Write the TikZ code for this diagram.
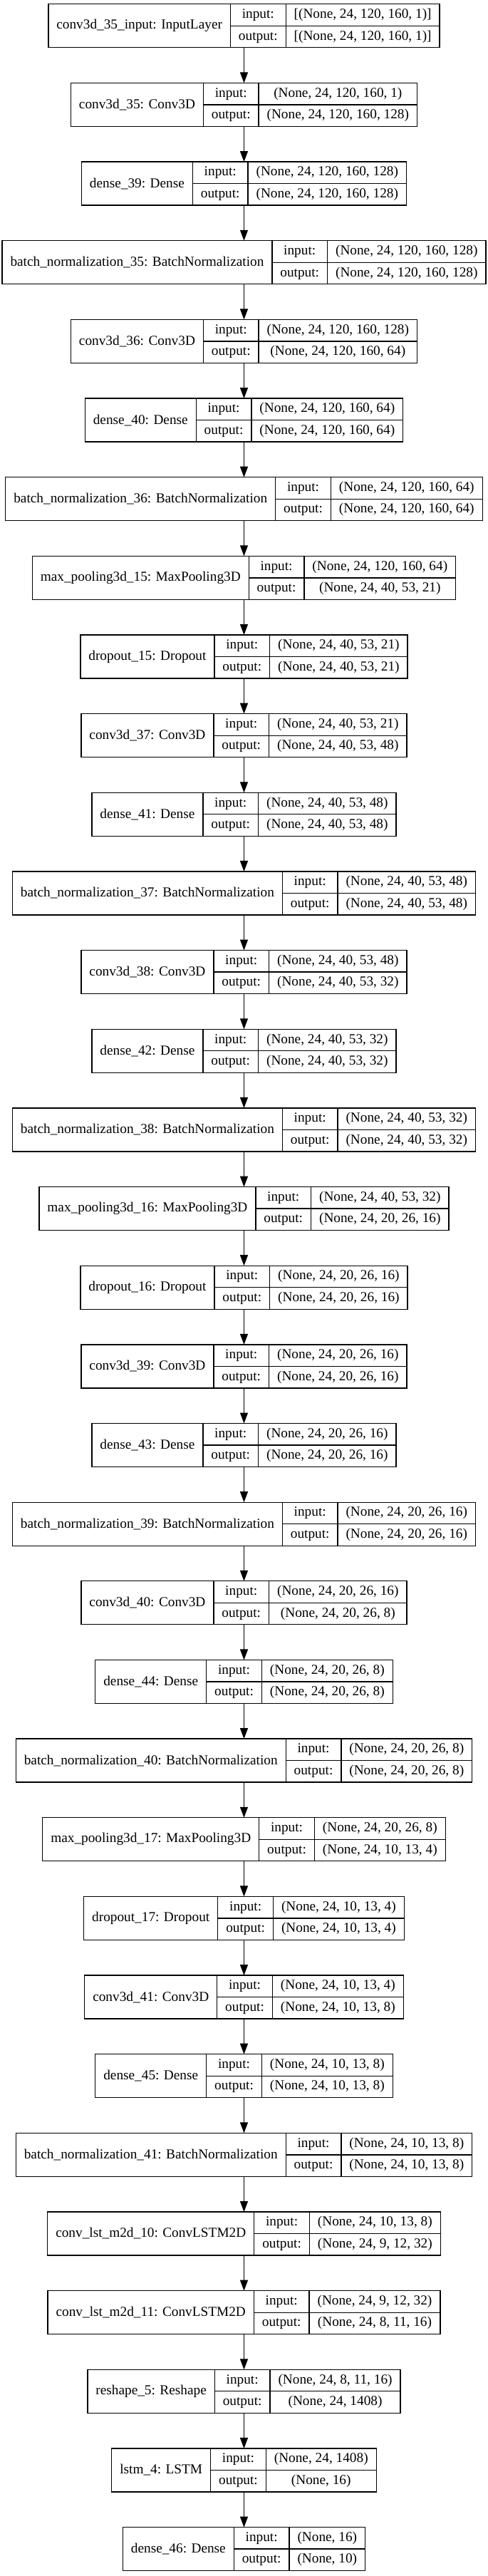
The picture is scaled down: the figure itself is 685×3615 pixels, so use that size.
\documentclass[tikz,border=0pt]{standalone}
\usepackage{fontspec}
\setmainfont{Liberation Serif}
\usetikzlibrary{positioning,arrows.meta}

\font\shapefont="Liberation Serif" at 19.3pt
\newlength\wname \newlength\wlab \newlength\wval \newlength\wout \newlength\wbox

\tikzset{
  layerbox/.style={draw=none, minimum height=61pt, inner sep=0pt, outer sep=0pt},
  namecell/.style={draw, line width=1.3pt, minimum height=61pt, inner sep=0pt, outer sep=0pt, font=\shapefont},
  rowcell/.style={draw, line width=1.3pt, minimum height=30.5pt, inner sep=0pt, outer sep=0pt, font=\shapefont, text height=13.5pt, text depth=4.5pt},
  flow/.style={line width=1.3pt, -{Triangle[length=15pt,width=11pt]}}
}

% one record: name | input:/output: | shapes
\newcommand\layer[5]{%
  \settowidth\wname{\shapefont #3}\addtolength\wname{23pt}%
  \settowidth\wlab{\shapefont output:}\addtolength\wlab{23pt}%
  \settowidth\wval{\shapefont #4}\settowidth\wout{\shapefont #5}%
  \ifdim\wout>\wval \setlength\wval{\wout}\fi
  \addtolength\wval{23pt}%
  \setlength\wbox{\dimexpr\wname+\wlab+\wval\relax}%
  \node[layerbox, minimum width=\wbox] (#1) at (342.5pt,{-36.3pt-110.65pt*(#2-1)}) {};
  \node[namecell, minimum width=\wname, anchor=north west] (#1n) at (#1.north west) {#3};
  \node[rowcell, minimum width=\wlab, anchor=north west] (#1i) at (#1n.north east) {input:};
  \node[rowcell, minimum width=\wlab, below=0pt of #1i] (#1o) {output:};
  \node[rowcell, minimum width=\wval, right=0pt of #1i] (#1vi) {#4};
  \node[rowcell, minimum width=\wval, right=0pt of #1o] (#1vo) {#5};
}

\begin{document}
\begin{tikzpicture}
        % Fond
        \useasboundingbox (0,0) rectangle (685pt,-3615pt);
        \fill[white] (0,0) rectangle (685pt,-3615pt);
        % Couches
        \layer{input}{1}{conv3d\_35\_input: InputLayer}{[(None, 24, 120, 160, 1)]}{[(None, 24, 120, 160, 1)]}
        \layer{conv35}{2}{conv3d\_35: Conv3D}{(None, 24, 120, 160, 1)}{(None, 24, 120, 160, 128)}
        \layer{dense39}{3}{dense\_39: Dense}{(None, 24, 120, 160, 128)}{(None, 24, 120, 160, 128)}
        \layer{bn35}{4}{batch\_normalization\_35: BatchNormalization}{(None, 24, 120, 160, 128)}{(None, 24, 120, 160, 128)}
        \layer{conv36}{5}{conv3d\_36: Conv3D}{(None, 24, 120, 160, 128)}{(None, 24, 120, 160, 64)}
        \layer{dense40}{6}{dense\_40: Dense}{(None, 24, 120, 160, 64)}{(None, 24, 120, 160, 64)}
        \layer{bn36}{7}{batch\_normalization\_36: BatchNormalization}{(None, 24, 120, 160, 64)}{(None, 24, 120, 160, 64)}
        \layer{pool15}{8}{max\_pooling3d\_15: MaxPooling3D}{(None, 24, 120, 160, 64)}{(None, 24, 40, 53, 21)}
        \layer{drop15}{9}{dropout\_15: Dropout}{(None, 24, 40, 53, 21)}{(None, 24, 40, 53, 21)}
        \layer{conv37}{10}{conv3d\_37: Conv3D}{(None, 24, 40, 53, 21)}{(None, 24, 40, 53, 48)}
        \layer{dense41}{11}{dense\_41: Dense}{(None, 24, 40, 53, 48)}{(None, 24, 40, 53, 48)}
        \layer{bn37}{12}{batch\_normalization\_37: BatchNormalization}{(None, 24, 40, 53, 48)}{(None, 24, 40, 53, 48)}
        \layer{conv38}{13}{conv3d\_38: Conv3D}{(None, 24, 40, 53, 48)}{(None, 24, 40, 53, 32)}
        \layer{dense42}{14}{dense\_42: Dense}{(None, 24, 40, 53, 32)}{(None, 24, 40, 53, 32)}
        \layer{bn38}{15}{batch\_normalization\_38: BatchNormalization}{(None, 24, 40, 53, 32)}{(None, 24, 40, 53, 32)}
        \layer{pool16}{16}{max\_pooling3d\_16: MaxPooling3D}{(None, 24, 40, 53, 32)}{(None, 24, 20, 26, 16)}
        \layer{drop16}{17}{dropout\_16: Dropout}{(None, 24, 20, 26, 16)}{(None, 24, 20, 26, 16)}
        \layer{conv39}{18}{conv3d\_39: Conv3D}{(None, 24, 20, 26, 16)}{(None, 24, 20, 26, 16)}
        \layer{dense43}{19}{dense\_43: Dense}{(None, 24, 20, 26, 16)}{(None, 24, 20, 26, 16)}
        \layer{bn39}{20}{batch\_normalization\_39: BatchNormalization}{(None, 24, 20, 26, 16)}{(None, 24, 20, 26, 16)}
        \layer{conv40}{21}{conv3d\_40: Conv3D}{(None, 24, 20, 26, 16)}{(None, 24, 20, 26, 8)}
        \layer{dense44}{22}{dense\_44: Dense}{(None, 24, 20, 26, 8)}{(None, 24, 20, 26, 8)}
        \layer{bn40}{23}{batch\_normalization\_40: BatchNormalization}{(None, 24, 20, 26, 8)}{(None, 24, 20, 26, 8)}
        \layer{pool17}{24}{max\_pooling3d\_17: MaxPooling3D}{(None, 24, 20, 26, 8)}{(None, 24, 10, 13, 4)}
        \layer{drop17}{25}{dropout\_17: Dropout}{(None, 24, 10, 13, 4)}{(None, 24, 10, 13, 4)}
        \layer{conv41}{26}{conv3d\_41: Conv3D}{(None, 24, 10, 13, 4)}{(None, 24, 10, 13, 8)}
        \layer{dense45}{27}{dense\_45: Dense}{(None, 24, 10, 13, 8)}{(None, 24, 10, 13, 8)}
        \layer{bn41}{28}{batch\_normalization\_41: BatchNormalization}{(None, 24, 10, 13, 8)}{(None, 24, 10, 13, 8)}
        \layer{clstm10}{29}{conv\_lst\_m2d\_10: ConvLSTM2D}{(None, 24, 10, 13, 8)}{(None, 24, 9, 12, 32)}
        \layer{clstm11}{30}{conv\_lst\_m2d\_11: ConvLSTM2D}{(None, 24, 9, 12, 32)}{(None, 24, 8, 11, 16)}
        \layer{reshape5}{31}{reshape\_5: Reshape}{(None, 24, 8, 11, 16)}{(None, 24, 1408)}
        \layer{lstm4}{32}{lstm\_4: LSTM}{(None, 24, 1408)}{(None, 16)}
        \layer{dense46}{33}{dense\_46: Dense}{(None, 16)}{(None, 10)}
        % Flèches
        \draw[flow] (input.south) -- (conv35.north);
        \draw[flow] (conv35.south) -- (dense39.north);
        \draw[flow] (dense39.south) -- (bn35.north);
        \draw[flow] (bn35.south) -- (conv36.north);
        \draw[flow] (conv36.south) -- (dense40.north);
        \draw[flow] (dense40.south) -- (bn36.north);
        \draw[flow] (bn36.south) -- (pool15.north);
        \draw[flow] (pool15.south) -- (drop15.north);
        \draw[flow] (drop15.south) -- (conv37.north);
        \draw[flow] (conv37.south) -- (dense41.north);
        \draw[flow] (dense41.south) -- (bn37.north);
        \draw[flow] (bn37.south) -- (conv38.north);
        \draw[flow] (conv38.south) -- (dense42.north);
        \draw[flow] (dense42.south) -- (bn38.north);
        \draw[flow] (bn38.south) -- (pool16.north);
        \draw[flow] (pool16.south) -- (drop16.north);
        \draw[flow] (drop16.south) -- (conv39.north);
        \draw[flow] (conv39.south) -- (dense43.north);
        \draw[flow] (dense43.south) -- (bn39.north);
        \draw[flow] (bn39.south) -- (conv40.north);
        \draw[flow] (conv40.south) -- (dense44.north);
        \draw[flow] (dense44.south) -- (bn40.north);
        \draw[flow] (bn40.south) -- (pool17.north);
        \draw[flow] (pool17.south) -- (drop17.north);
        \draw[flow] (drop17.south) -- (conv41.north);
        \draw[flow] (conv41.south) -- (dense45.north);
        \draw[flow] (dense45.south) -- (bn41.north);
        \draw[flow] (bn41.south) -- (clstm10.north);
        \draw[flow] (clstm10.south) -- (clstm11.north);
        \draw[flow] (clstm11.south) -- (reshape5.north);
        \draw[flow] (reshape5.south) -- (lstm4.north);
        \draw[flow] (lstm4.south) -- (dense46.north);
\end{tikzpicture}
\end{document}
